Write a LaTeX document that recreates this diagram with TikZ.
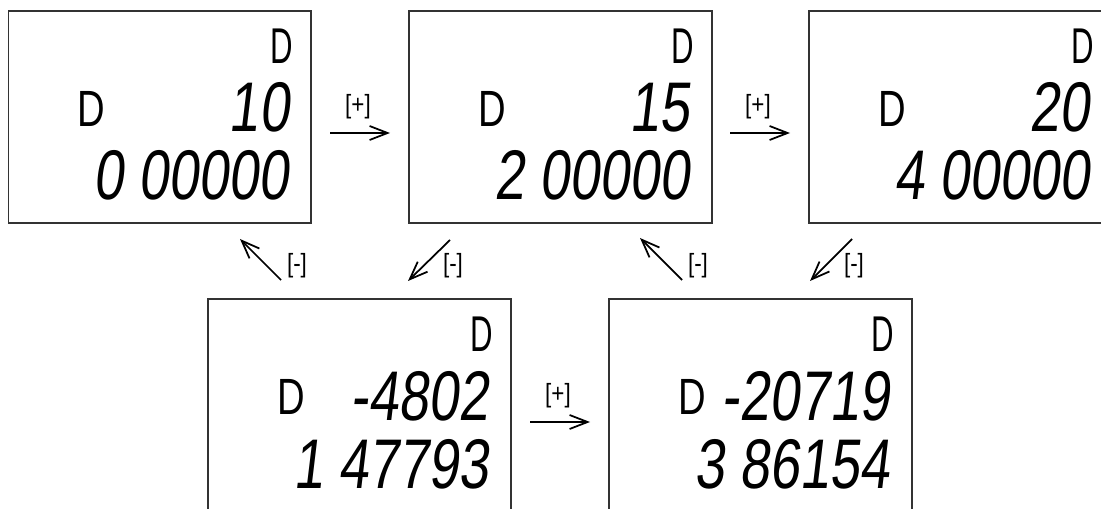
\documentclass[tikz,border=0pt]{standalone}
\usepackage{fontspec}
\setmainfont{Liberation Sans}
\newfontfamily\unitfont[FakeStretch=0.62]{Liberation Sans}
\newfontfamily\modefont[FakeStretch=0.75]{Liberation Sans}
\newfontfamily\segfont[FakeStretch=0.77,FakeSlant=0.12]{Liberation Sans}
\newfontfamily\keyfont[FakeStretch=0.85]{Liberation Sans}
\usetikzlibrary{arrows.meta}

\begin{document}
\begin{tikzpicture}[x=0.02cm, y=-0.02cm,
    lcdbox/.style={draw=black!80, line width=1pt, minimum width=6.06cm,
      minimum height=4.24cm, inner sep=0pt, anchor=north west},
    unitD/.style={font=\unitfont\fontsize{28.6}{30}\selectfont, inner sep=0pt, anchor=base east},
    modeD/.style={font=\modefont\fontsize{29}{30}\selectfont, inner sep=0pt, anchor=base west},
    segnum/.style={font=\segfont\fontsize{40}{40}\selectfont, inner sep=0pt, anchor=base east},
    keylabel/.style={font=\keyfont\fontsize{15}{16}\selectfont, inner sep=0pt},
    keyarrow/.style={-{Straight Barb[length=3.6mm,width=2.8mm]}, line width=1pt}]

  \clip (0,0) rectangle (1101,509);

  % Anzeigen
  \foreach \n/\bx/\by/\upper/\lower in {1/7.5/10/10/0 00000, 2/408/10/15/2 00000,
      3/808/10/20/4 00000, 4/207/298/-4802/1 47793, 5/608/298/-20719/3 86154} {
    \begin{scope}[shift={(\bx,\by)}]
      \node[lcdbox] (disp\n) at (0,0) {};
      \node[unitD] (unit\n) at (286,54) {D};
      \node[modeD] (mode\n) at (70,117) {D};
      \node[segnum] (upper\n) at (282,122) {\upper};
      \node[segnum] (lower\n) at (282,190) {\lower};
    \end{scope}
  }

  % Taste [+]
  \coordinate (inc1a) at (330,133); \coordinate (inc1b) at (390,133);
  \coordinate (inc2a) at (730,133); \coordinate (inc2b) at (790,133);
  \coordinate (inc3a) at (530,422); \coordinate (inc3b) at (590,422);
  \draw[keyarrow] (inc1a) -- (inc1b);
  \draw[keyarrow] (inc2a) -- (inc2b);
  \draw[keyarrow] (inc3a) -- (inc3b);
  \node[keylabel] (plus1) at (358,107) {[+]};
  \node[keylabel] (plus2) at (758,107) {[+]};
  \node[keylabel] (plus3) at (558,396) {[+]};

  % Taste [-]
  \coordinate (dec1a) at (281,280); \coordinate (dec1b) at (240,239);
  \coordinate (dec2a) at (450,240); \coordinate (dec2b) at (408,281);
  \coordinate (dec3a) at (682,280); \coordinate (dec3b) at (640,238);
  \coordinate (dec4a) at (852,239); \coordinate (dec4b) at (810,281);
  \draw[keyarrow] (dec1a) -- (dec1b);
  \draw[keyarrow] (dec2a) -- (dec2b);
  \draw[keyarrow] (dec3a) -- (dec3b);
  \draw[keyarrow] (dec4a) -- (dec4b);
  \node[keylabel] (minus1) at (297,266) {[-]};
  \node[keylabel] (minus2) at (453,266) {[-]};
  \node[keylabel] (minus3) at (698,266) {[-]};
  \node[keylabel] (minus4) at (854,266) {[-]};

\end{tikzpicture}
\end{document}
